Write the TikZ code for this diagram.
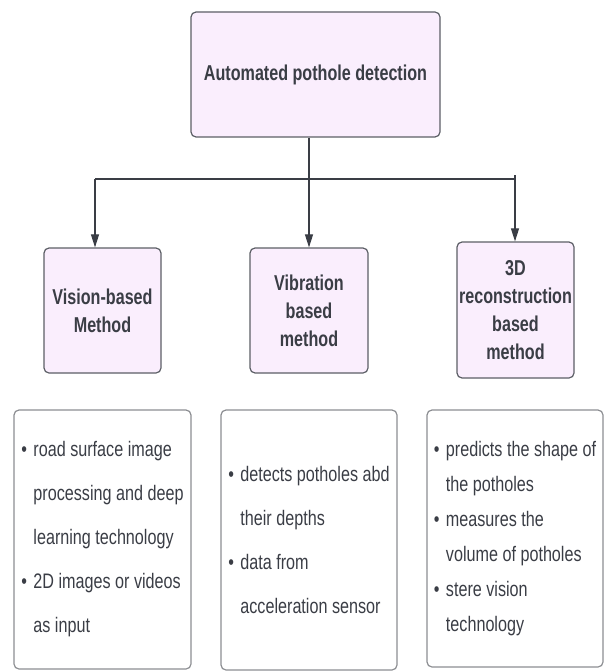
\documentclass[tikz,border=0pt]{standalone}
\usepackage{fontspec}
\setmainfont[FakeStretch=0.77]{Liberation Sans}
\newfontfamily\headfont[FakeStretch=0.75]{Liberation Sans}
\usetikzlibrary{arrows.meta}

\definecolor{boxfill}{RGB}{250,238,253}
\definecolor{boxline}{RGB}{92,95,102}
\definecolor{listline}{RGB}{140,142,146}
\definecolor{inkgray}{RGB}{58,61,69}

\newcommand{\bul}{\makebox[12pt][l]{\textbullet}}
\newcommand{\ind}{\hspace*{12pt}}

\tikzset{
  headbox/.style={draw=boxline, fill=boxfill, line width=1.2pt, rounded corners=5pt,
    align=center, text=inkgray, inner sep=0pt, font=\headfont\bfseries\fontsize{21.5}{28}\selectfont},
  listbox/.style={draw=listline, line width=1.2pt, rounded corners=5pt,
    align=left, text=inkgray, inner sep=0pt},
  conn/.style={draw=inkgray, line width=1.1pt},
  tip/.style={-{Triangle[length=13pt,width=8pt]}}
}

\begin{document}
\begin{tikzpicture}[x=1pt,y=-1pt]
\useasboundingbox (0,0) rectangle (605,671);

\node[headbox, minimum width=249pt, minimum height=125pt] (auto) at (315.5,74.5) {Automated pothole detection};
\node[headbox, minimum width=117pt, minimum height=125pt] (vision) at (102.5,310.5) {Vision-based\\Method};
\node[headbox, minimum width=118pt, minimum height=125pt] (vib) at (309,310.5) {Vibration\\based\\method};
\node[headbox, minimum width=117pt, minimum height=136pt] (recon) at (515.5,310) {3D\\reconstruction\\based\\method};

\node[listbox, minimum width=177pt, minimum height=259pt, font=\fontsize{21}{44}\selectfont] (visionlist) at (102.5,539.5)
  {\bul road surface image\\ \ind processing and deep\\ \ind learning technology\\ \bul 2D images or videos\\ \ind as input};
\node[listbox, minimum width=176pt, minimum height=260pt, font=\fontsize{21}{44}\selectfont] (viblist) at (309,540)
  {\bul detects potholes abd\\ \ind their depths\\ \bul data from\\ \ind acceleration sensor};
\node[listbox, minimum width=176pt, minimum height=257pt, font=\fontsize{21}{35}\selectfont] (reconlist) at (515,538.5)
  {\bul predicts the shape of\\ \ind the potholes\\ \bul measures the\\ \ind volume of potholes\\ \bul stere vision\\ \ind technology};

\coordinate (jl) at (95,179);
\coordinate (jr) at (515,179);
\coordinate (jrtop) at (515,175);

\draw[conn, tip] (auto.south -| vib.north) -- (vib.north);
\draw[conn] (jl) -- (jr);
\draw[conn, tip] (jl) -- (vision.north -| jl);
\draw[conn, tip] (jrtop) -- (recon.north -| jrtop);
\end{tikzpicture}
\end{document}
